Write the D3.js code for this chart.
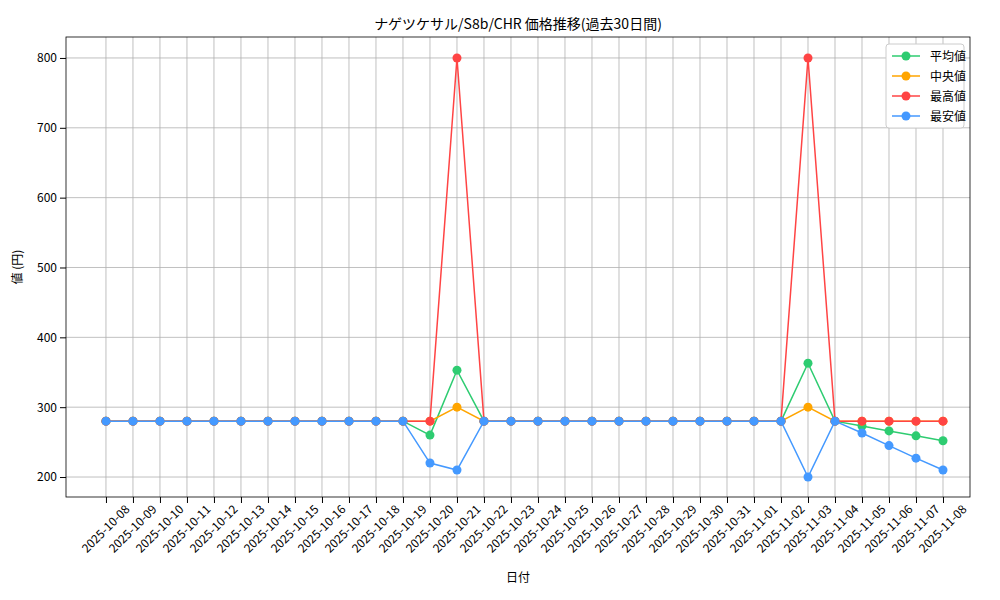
<!DOCTYPE html><html><head><meta charset="utf-8"><script src="https://d3js.org/d3.v7.min.js"></script>
<style>body{margin:0;background:#fff}text{font-family:"Noto Sans CJK JP","DejaVu Sans",sans-serif}</style></head><body><svg id="c" width="1000" height="600"></svg><script>
const dates=["2025-10-08","2025-10-09","2025-10-10","2025-10-11","2025-10-12","2025-10-13","2025-10-14","2025-10-15","2025-10-16","2025-10-17","2025-10-18","2025-10-19","2025-10-20","2025-10-21","2025-10-22","2025-10-23","2025-10-24","2025-10-25","2025-10-26","2025-10-27","2025-10-28","2025-10-29","2025-10-30","2025-10-31","2025-11-01","2025-11-02","2025-11-03","2025-11-04","2025-11-05","2025-11-06","2025-11-07","2025-11-08"];
const avgVals=[280,280,280,280,280,280,280,280,280,280,280,280,260,353,280,280,280,280,280,280,280,280,280,280,280,280,363,280,273,266,259,252];
const medVals=[280,280,280,280,280,280,280,280,280,280,280,280,280,300,280,280,280,280,280,280,280,280,280,280,280,280,300,280,280,280,280,280];
const maxVals=[280,280,280,280,280,280,280,280,280,280,280,280,280,800,280,280,280,280,280,280,280,280,280,280,280,280,800,280,280,280,280,280];
const minVals=[280,280,280,280,280,280,280,280,280,280,280,280,220,210,280,280,280,280,280,280,280,280,280,280,280,280,200,280,263,245,227,210];
const yTicks=[200,300,400,500,600,700,800];
const series=[{name:"平均値",v:avgVals,c:"#2ecc71"},{name:"中央値",v:medVals,c:"#ffa500"},{name:"最高値",v:maxVals,c:"#ff4444"},{name:"最安値",v:minVals,c:"#4499ff"}];
const L=66,R=970,T=37,B=497;
const svg=d3.select("#c");
const x=d3.scaleLinear().domain([-1.48,32]).range([L,R]);
const y=d3.scaleLinear().domain([171.4,830]).range([B,T]);
const g=svg.append("g");
dates.forEach((d,i)=>g.append("line").attr("x1",x(i)).attr("x2",x(i)).attr("y1",T).attr("y2",B).attr("stroke","#b0b0b0").attr("stroke-width",0.8));
yTicks.forEach(t=>g.append("line").attr("x1",L).attr("x2",R).attr("y1",y(t)).attr("y2",y(t)).attr("stroke","#b0b0b0").attr("stroke-width",0.8));
const xa=svg.append("g").attr("transform",`translate(0,${B})`).call(d3.axisBottom(x).tickValues(d3.range(dates.length)).tickFormat(i=>dates[i]).tickSizeOuter(0));
xa.selectAll("text").attr("text-anchor","end").attr("x",0).attr("y",0).attr("dy",0).attr("transform","translate(24,13) rotate(-45)").style("font-size","12px").attr("fill","#000");
xa.select(".domain").remove();
const ya=svg.append("g").attr("transform",`translate(${L},0)`).call(d3.axisLeft(y).tickValues(yTicks).tickSizeOuter(0));
ya.selectAll("text").style("font-size","12px").attr("fill","#000");
ya.select(".domain").remove();
svg.append("rect").attr("x",L).attr("y",T).attr("width",R-L).attr("height",B-T).attr("fill","none").attr("stroke","#000").attr("stroke-width",0.8);
const line=d3.line().x((d,i)=>x(i)).y(d=>y(d));
series.forEach(s=>{
 svg.append("path").datum(s.v).attr("d",line).attr("fill","none").attr("stroke",s.c).attr("stroke-width",1.5);
 svg.selectAll(null).data(s.v).enter().append("circle").attr("cx",(d,i)=>x(i)).attr("cy",d=>y(d)).attr("r",4.5).attr("fill",s.c);
});
svg.append("text").attr("x",(L+R)/2).attr("y",29).attr("text-anchor","middle").style("font-size","14px").text("ナゲツケサル/S8b/CHR 価格推移(過去30日間)");
svg.append("text").attr("x",(L+R)/2).attr("y",582).attr("text-anchor","middle").style("font-size","12px").text("日付");
svg.append("text").attr("transform",`translate(22,${(T+B)/2}) rotate(-90)`).attr("text-anchor","middle").style("font-size","12px").text("値 (円)");
const lg=svg.append("g").attr("transform","translate(886,44)");
lg.append("rect").attr("width",78).attr("height",84).attr("rx",3).attr("fill","#fff").attr("stroke","#ccc");
series.forEach((s,i)=>{const yy=12+i*20;
 lg.append("line").attr("x1",6).attr("x2",34).attr("y1",yy).attr("y2",yy).attr("stroke",s.c).attr("stroke-width",1.5);
 lg.append("circle").attr("cx",20).attr("cy",yy).attr("r",4.5).attr("fill",s.c);
 lg.append("text").attr("x",44).attr("y",yy+4.5).style("font-size","12px").text(s.name);});
</script></body></html>
